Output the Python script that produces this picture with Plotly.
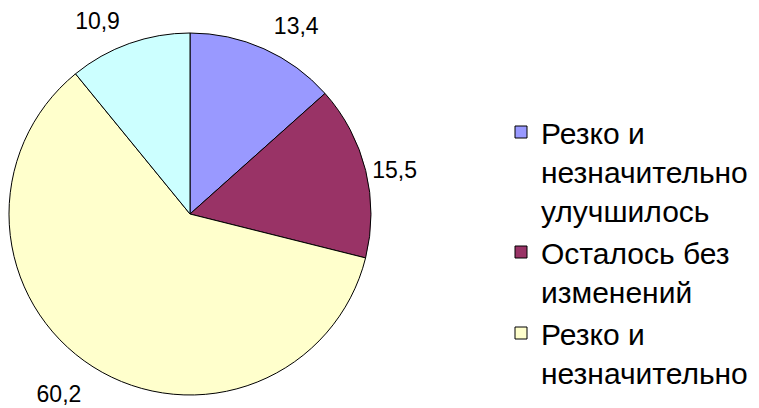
import plotly.graph_objects as go

labels = [
    "Резко и<br>незначительно<br>улучшилось",
    "Осталось без<br>изменений",
    "Резко и<br>незначительно<br>ухудшилось",
    "Затрудняюсь ответить",
]
values = [13.4, 15.5, 60.2, 10.9]
colors = ["#9999FF", "#993366", "#FFFFCC", "#CCFFFF"]

# the page adds an 8px body margin, so the figure is 8px smaller than the window
W, H = 751, 400
cx, cy, r = 182, 206, 181

FONT = "Liberation Sans, Arial, sans-serif"
NUM = '<span style="font-size:23px">%{value:.1f}</span>'
PAD = "\u00a0"

# outside data labels sit a little further from the pie than Plotly's default:
# an invisible padding line (small font) on the side facing the pie pushes them out
label_templates = [
    NUM + "<br>" + PAD,      # top-right label
    NUM,                     # right label
    PAD + "<br>" + NUM,      # bottom-left label
    NUM + "<br>" + PAD,      # top-left label
]
label_pad_sizes = [12, 23, 19, 11]

fig = go.Figure(
    go.Pie(
        labels=labels,
        values=values,
        sort=False,
        direction="clockwise",
        rotation=0,
        marker=dict(colors=colors, line=dict(color="#000000", width=1)),
        textposition="outside",
        texttemplate=label_templates,
        textfont=dict(family=FONT, size=label_pad_sizes, color="#000000"),
        domain=dict(x=[(cx - r) / W, (cx + r) / W], y=[(H - cy - r) / H, (H - cy + r) / H]),
        hoverinfo="label+value",
    )
)

fig.update_layout(
    width=W,
    height=H,
    margin=dict(l=0, r=0, t=0, b=0, autoexpand=False),
    paper_bgcolor="#FFFFFF",
    plot_bgcolor="#FFFFFF",
    separators=", ",
    font=dict(family=FONT, color="#000000"),
    legend=dict(
        x=493 / W,
        xanchor="left",
        y=1 - 98 / H,
        yanchor="top",
        valign="top",
        itemwidth=30,
        maxheight=288,
        font=dict(family=FONT, size=30, color="#000000"),
        bgcolor="rgba(0,0,0,0)",
        borderwidth=0,
    ),
    showlegend=True,
)

fig.write_html("out.html")
